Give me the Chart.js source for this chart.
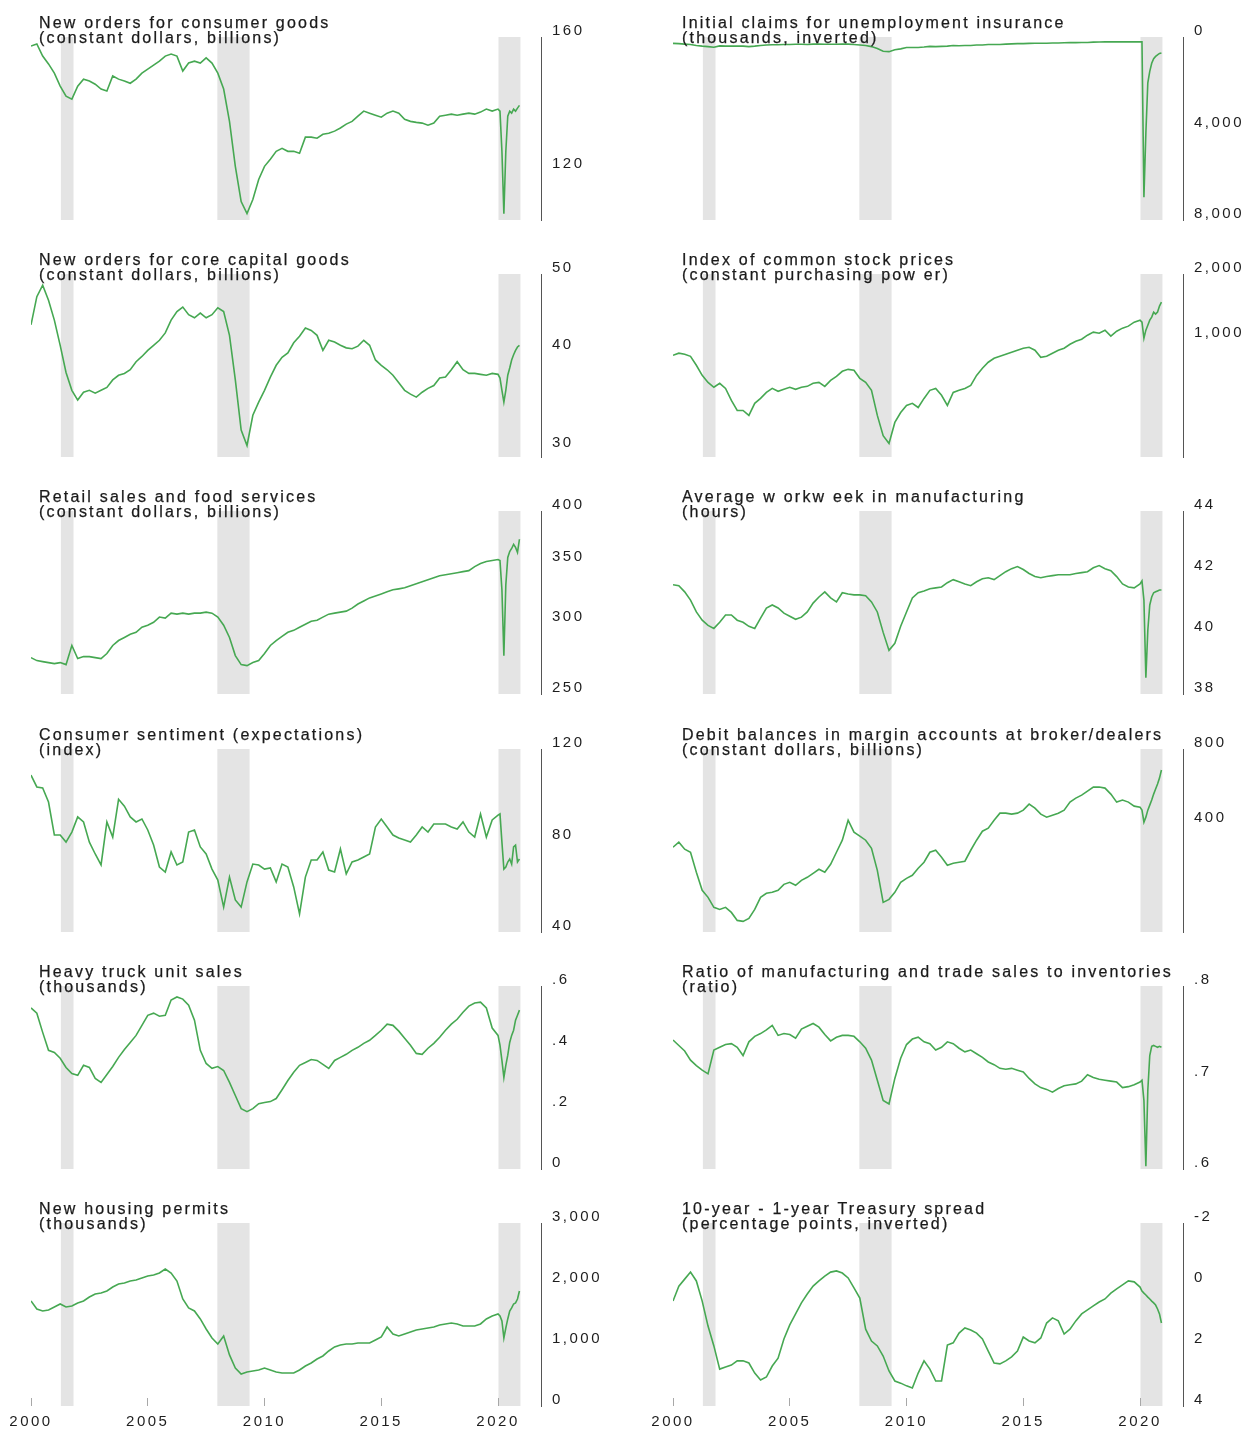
<!DOCTYPE html>
<html><head><meta charset="utf-8">
<script src="https://cdn.jsdelivr.net/npm/chart.js@4.4.0/dist/chart.umd.min.js"></script>
<style>
html,body{margin:0;padding:0;background:#fff;}
body{width:1259px;height:1435px;position:relative;overflow:hidden;font-family:"Liberation Sans",Arial,sans-serif;}
.panel{position:absolute;}
.panel canvas{display:block;}
.title{position:absolute;font-size:16px;line-height:14.5px;letter-spacing:2.2px;color:#1a1a1a;-webkit-text-stroke:0.25px #1a1a1a;white-space:pre;z-index:2;}
</style></head><body>
<script>
// ---- time axis (quarterly 2000-2019, monthly 2020) ----
const dates = [];
for (let yr = 2000; yr < 2020; yr++) for (let q = 0; q < 4; q++) dates.push(yr + q / 4);
for (let m = 0; m < 12; m++) dates.push(2020 + m / 12);

const recessionStart = [2001.28, 2007.98, 2020.02];
const recessionEnd   = [2001.82, 2009.36, 2020.96];
const yearTicks  = [2000, 2005, 2010, 2015, 2020];
const yearLabels = ['2000', '2005', '2010', '2015', '2020'];

// ---- series ----
const consumerGoods = [156.9,157.6,153.5,150.9, 147.9,143.8,140.7,139.8, 143.8,146.0,145.4,144.4, 142.9,142.3,147.0,146.0, 145.4,144.7,146.0,147.9, 149.2,150.5,151.8,153.5, 154.2,153.5,148.6,151.2, 151.8,151.2,152.9,151.2, 147.9,142.9,133.2,120.8, 111.9,109.0,112.4,117.4, 120.8,122.7,124.8,125.6, 124.8,124.8,124.3,128.7, 128.7,128.4,129.5,129.8, 130.4,131.3,132.4,133.2, 134.7,136.2,135.6,135.0, 134.4,135.6,136.2,135.6, 133.8,133.2,132.9,132.7, 132.1,132.7,134.7,135.0, 135.3,135.0,135.3,135.6, 135.3,135.9,136.8,136.2, 136.8,136.2,124.8,109.0,124.8,134.7,136.2,135.6,136.8,136.2,137.1,137.9];
const initialClaims = [280,290,310,330, 370,400,420,450, 390,400,400,400, 400,420,400,370, 350,340,340,330, 330,320,320,330, 310,310,320,320, 320,310,310,330, 350,370,420,500, 620,640,560,520, 460,460,460,440, 410,420,410,400, 370,380,370,370, 350,350,330,330, 330,310,300,290, 290,280,270,270, 270,260,260,250, 245,245,240,240, 225,220,215,215, 215,215,215,215, 215,210,7000,4200,2000,1500,1150,950,850,780,720,700];
const coreCapitalGoods = [43.1,46.8,48.4,46.3, 43.7,40.6,37.5,35.6, 34.6,35.4,35.6,35.3, 35.6,35.9,36.7,37.2, 37.4,37.8,38.7,39.3, 40.0,40.6,41.2,42.1, 43.7,44.8,45.4,44.4, 44.0,44.6,44.0,44.4, 45.3,44.8,41.8,36.7, 31.7,30.3,33.1,34.4, 35.6,37.0,38.3,39.2, 39.7,40.9,41.7,42.7, 42.4,41.8,40.0,41.2, 41.0,40.6,40.3,40.2, 40.5,41.2,40.6,38.9, 38.3,37.8,37.2,36.4, 35.6,35.2,34.9,35.4, 35.8,36.1,36.9,37.0, 37.8,38.7,37.8,37.4, 37.4,37.3,37.2,37.4, 37.3,36.9,35.6,34.4,35.6,37.2,38.0,38.9,39.5,40.0,40.4,40.6];
const stockPrices = [843,862,852,834, 758,681,632,600, 626,593,522,469, 469,445,506,533, 568,593,575,587, 600,587,600,606, 626,632,606,646, 674,711,726,719, 660,632,581,445, 359,330,413,459, 495,506,484,533, 581,593,551,495, 568,581,593,612, 681,734,783,817, 834,852,871,890, 909,918,890,825, 834,862,890,909, 948,979,1000,1044, 1078,1066,1101,1033, 1089,1125,1149,1199, 1225,1199,1011,1101,1161,1225,1265,1334,1306,1334,1422,1484];
const retailSales = [274.5,272.4,271.7,271.0, 270.3,271.0,269.6,283.2, 273.8,275.2,275.2,274.5, 273.8,277.4,283.2,286.8, 289.1,291.4,292.9,296.8, 298.3,300.6,304.6,303.8, 307.7,306.9,307.7,306.9, 307.7,307.7,308.5,307.7, 304.6,298.3,289.1,275.9, 269.6,268.9,271.0,272.4, 277.4,283.2,286.8,289.9, 292.9,294.4,296.8,299.1, 301.4,302.2,304.6,306.9, 307.7,308.5,309.3,311.7, 315.0,317.5,320.0,321.6, 323.3,325.0,326.7,327.5, 328.4,330.1,331.8,333.5, 335.2,337.0,338.8,339.6, 340.5,341.4,342.3,343.2, 346.8,349.5,351.3,352.2, 353.1,352.2,326.7,275.9,330.9,355.0,360.5,363.3,367.2,364.3,359.6,372.0];
const avgWorkweek = [41.58,41.55,41.35,41.08, 40.69,40.42,40.25,40.15, 40.35,40.59,40.59,40.42, 40.35,40.22,40.15,40.49, 40.82,40.92,40.82,40.65, 40.55,40.45,40.52,40.69, 40.98,41.18,41.35,41.15, 41.02,41.32,41.28,41.25, 41.25,41.22,41.02,40.69, 40.02,39.43,39.66,40.22, 40.69,41.15,41.32,41.38, 41.45,41.48,41.51,41.65, 41.75,41.68,41.61,41.55, 41.68,41.78,41.81,41.75, 41.88,42.01,42.11,42.18, 42.08,41.95,41.85,41.81, 41.85,41.88,41.91,41.91, 41.91,41.95,41.98,42.01, 42.14,42.21,42.11,42.04, 41.85,41.61,41.51,41.48, 41.61,41.71,41.08,38.53,40.09,40.92,41.18,41.32,41.35,41.38,41.41,41.41];
const consumerSentiment = [108.6,103.4,103.0,96.8, 82.4,82.4,79.3,83.7, 90.3,88.1,79.3,74.1, 69.3,88.1,81.5,98.0, 95.0,90.3,88.1,89.4, 84.6,78.0,68.4,66.2, 75.0,69.3,70.6,83.7, 84.6,77.2,74.1,67.5, 62.7,50.9,64.0,54.0, 50.9,61.9,69.7,69.3, 67.5,68.0,61.9,69.7, 68.4,59.7,47.9,64.0, 71.5,71.5,75.0,67.1, 66.2,76.3,65.4,70.6, 71.5,72.8,74.1,85.9, 89.4,85.9,82.4,81.1, 80.2,79.3,82.4,85.9, 83.7,87.2,87.2,87.2, 85.9,85.0,88.1,83.7, 81.5,91.6,81.5,89.0, 91.1,91.6,79.3,67.5,68.4,70.6,71.9,69.7,77.2,78.0,70.6,71.9];
const marginDebit = [323.4,338.7,317.5,308.8, 256.7,217.4,203.7,185.8, 182.3,185.8,177.3,164.7, 163.2,167.8,182.3,203.7, 211.4,213.4,217.4,229.7, 234.0,227.6,238.4,245.1, 254.3,263.9,256.7,276.4, 308.8,345.0,415.0,371.5, 358.0,345.0,320.4,261.4, 194.5,200.0,213.4,234.0, 242.8,249.7,266.3,281.5, 308.8,314.5,294.9,273.8, 278.9,281.5,284.2,314.5, 345.0,374.9,385.5,415.0, 442.8,442.8,438.7,442.8, 455.3,481.2,463.8,438.7, 426.7,434.7,442.8,455.3, 490.3,508.7,523.0,542.7, 563.1,563.1,557.9,527.8, 490.3,499.4,490.3,472.4, 468.1,455.3,407.5,426.7,455.3,476.8,499.4,527.8,552.8,578.9,611.9,658.9];
const heavyTrucks = [.528,.511,.448,.389, .382,.363,.333,.313, .307,.340,.333,.297, .284,.310,.336,.366, .392,.415,.438,.471, .504,.511,.501,.504, .554,.564,.557,.537, .488,.389,.346,.330, .336,.323,.284,.241, .198,.188,.198,.214, .218,.221,.231,.260, .290,.317,.340,.349, .359,.356,.343,.330, .356,.366,.376,.389, .399,.412,.422,.438, .455,.475,.471,.452, .429,.406,.379,.376, .396,.412,.432,.455, .475,.491,.514,.534, .544,.547,.528,.462, .438,.406,.356,.300,.340,.373,.415,.438,.455,.488,.504,.521];
const salesInventoryRatio = [.741,.735,.729,.719, .713,.708,.704,.730, .733,.736,.737,.733, .724,.739,.745,.748, .752,.757,.746,.748, .747,.743,.753,.756, .759,.755,.747,.740, .744,.746,.746,.745, .739,.732,.719,.697, .675,.671,.699,.721, .736,.742,.744,.739, .737,.730,.733,.739, .737,.732,.728,.730, .726,.722,.717,.714, .710,.709,.710,.708, .706,.699,.693,.689, .687,.684,.688,.691, .692,.693,.696,.703, .700,.698,.697,.696, .695,.689,.690,.692, .695,.697,.675,.603,.686,.724,.734,.735,.734,.733,.734,.733];
const housingPermits = [1722,1590,1558,1574, 1623,1672,1623,1640, 1689,1722,1787,1836, 1853,1885,1951,2000, 2017,2049,2066,2099, 2131,2148,2180,2246, 2180,2049,1754,1607, 1558,1427,1263,1115, 1017,1148,837,623, 525,558,574,591, 623,591,558,541, 541,541,591,656, 705,771,820,902, 968,1000,1017,1017, 1033,1033,1033,1082, 1132,1295,1181,1148, 1181,1213,1246,1263, 1279,1295,1328,1345, 1361,1345,1312,1312, 1312,1345,1427,1476, 1509,1476,1394,1115,1279,1427,1558,1607,1672,1689,1754,1885];
const treasurySpread = [0.56,0.07,-0.16,-0.39, -0.10,0.56,1.38,2.03, 2.79,2.72,2.66,2.52, 2.52,2.59,2.92,3.15, 3.05,2.69,2.43,1.80, 1.34,0.98,0.62,0.33, 0.07,-0.10,-0.26,-0.39, -0.43,-0.36,-0.20,0.13, 0.46,1.48,1.87,2.03, 2.36,2.85,3.18,3.25, 3.34,3.41,2.92,2.52, 2.79,3.18,3.18,2.00, 1.93,1.61,1.44,1.51, 1.61,1.80,2.20,2.59, 2.62,2.52,2.39,2.20, 1.74,1.87,1.93,1.77, 1.28,1.11,1.21,1.64, 1.48,1.21,0.98,0.85, 0.72,0.59,0.49,0.30, 0.16,0.03,-0.10,-0.07, 0.10,0.23,0.30,0.36,0.43,0.49,0.56,0.62,0.69,0.82,0.98,1.28];

// ---- tick values and labels ----
const consumerGoodsTicks = [120, 160];            const consumerGoodsLabels = ['120', '160'];
const initialClaimsTicks = [0, 4000, 8000];       const initialClaimsLabels = ['0', '4,000', '8,000'];
const coreCapitalTicks = [30, 40, 50];            const coreCapitalLabels = ['30', '40', '50'];
const stockPricesTicks = [1000, 2000];            const stockPricesLabels = ['1,000', '2,000'];
const retailSalesTicks = [250, 300, 350, 400];    const retailSalesLabels = ['250', '300', '350', '400'];
const workweekTicks = [38, 40, 42, 44];           const workweekLabels = ['38', '40', '42', '44'];
const sentimentTicks = [40, 80, 120];             const sentimentLabels = ['40', '80', '120'];
const marginDebitTicks = [400, 800];              const marginDebitLabels = ['400', '800'];
const heavyTrucksTicks = [0, 0.2, 0.4, 0.6];      const heavyTrucksLabels = ['0', '.2', '.4', '.6'];
const ratioTicks = [0.6, 0.7, 0.8];               const ratioLabels = ['.6', '.7', '.8'];
const housingTicks = [0, 1000, 2000, 3000];       const housingLabels = ['0', '1,000', '2,000', '3,000'];
const spreadTicks = [-2, 0, 2, 4];                const spreadLabels = ['-2', '0', '2', '4'];

const panels = [
  {row:0, col:0, title:['New orders for consumer goods','(constant dollars, billions)'], data:consumerGoods, log:true, min:107.5, max:160, ticks:consumerGoodsTicks, labels:consumerGoodsLabels},
  {row:0, col:1, title:['Initial claims for unemployment insurance','(thousands, inverted)'], data:initialClaims, min:0, max:8000, reverse:true, ticks:initialClaimsTicks, labels:initialClaimsLabels},
  {row:1, col:0, title:['New orders for core capital goods','(constant dollars, billions)'], data:coreCapitalGoods, log:true, min:29.3, max:50, ticks:coreCapitalTicks, labels:coreCapitalLabels},
  {row:1, col:1, title:['Index of common stock prices','(constant purchasing pow er)'], data:stockPrices, log:true, min:286, max:2000, ticks:stockPricesTicks, labels:stockPricesLabels},
  {row:2, col:0, title:['Retail sales and food services','(constant dollars, billions)'], data:retailSales, log:true, min:250, max:400, ticks:retailSalesTicks, labels:retailSalesLabels},
  {row:2, col:1, title:['Average w orkw eek in manufacturing','(hours)'], data:avgWorkweek, min:38, max:44, ticks:workweekTicks, labels:workweekLabels},
  {row:3, col:0, title:['Consumer sentiment (expectations)','(index)'], data:consumerSentiment, min:40, max:120, ticks:sentimentTicks, labels:sentimentLabels},
  {row:3, col:1, title:['Debit balances in margin accounts at broker/dealers','(constant dollars, billions)'], data:marginDebit, log:true, min:148, max:800, ticks:marginDebitTicks, labels:marginDebitLabels},
  {row:4, col:0, title:['Heavy truck unit sales','(thousands)'], data:heavyTrucks, min:0, max:0.6, ticks:heavyTrucksTicks, labels:heavyTrucksLabels},
  {row:4, col:1, title:['Ratio of manufacturing and trade sales to inventories','(ratio)'], data:salesInventoryRatio, min:0.6, max:0.8, ticks:ratioTicks, labels:ratioLabels},
  {row:5, col:0, title:['New housing permits','(thousands)'], data:housingPermits, min:0, max:3000, ticks:housingTicks, labels:housingLabels},
  {row:5, col:1, title:['10-year - 1-year Treasury spread','(percentage points, inverted)'], data:treasurySpread, min:-2, max:4, reverse:true, ticks:spreadTicks, labels:spreadLabels}
];

Chart.defaults.font.family = '"Liberation Sans", Arial, sans-serif';

const recessionPlugin = {
  id: 'recessions',
  beforeDraw(chart) {
    const {ctx, chartArea: a, scales: {x}} = chart;
    ctx.letterSpacing = '2.5px';
    ctx.save();
    ctx.fillStyle = '#e4e4e4';
    recessionStart.forEach((s, i) => {
      const x1 = x.getPixelForValue(s), x2 = x.getPixelForValue(recessionEnd[i]);
      ctx.fillRect(x1, a.top, x2 - x1, a.bottom - a.top);
    });
    ctx.restore();
  }
};

const TOP0 = 37, PITCH = 237.2, PLOT_H = 183, PAD = 15, CANVAS_W = 618;
const tickFont = {family: '"Liberation Sans", Arial, sans-serif', size: 15};

panels.forEach(p => {
  const isBottom = p.row === 5;
  const top = Math.round(TOP0 + PITCH * p.row);
  const left = p.col ? 642 : 0;
  const h = PAD + PLOT_H + (isBottom ? 30 : PAD);

  const wrap = document.createElement('div');
  wrap.className = 'panel';
  wrap.style.left = left + 'px';
  wrap.style.top = (top - PAD) + 'px';
  const cv = document.createElement('canvas');
  cv.width = CANVAS_W; cv.height = h;
  cv.style.width = CANVAS_W + 'px'; cv.style.height = h + 'px';
  wrap.appendChild(cv);
  document.body.appendChild(wrap);

  const t = document.createElement('div');
  t.className = 'title';
  t.style.left = (p.col ? 682 : 39) + 'px';
  t.style.top = (top - 21) + 'px';
  t.textContent = p.title.join('\n');
  document.body.appendChild(t);

  const xScale = {
    type: 'linear', min: 2000, max: 2021.84, display: isBottom,
    grid: {display: true, drawOnChartArea: false, drawTicks: true, tickLength: -8, color: '#a8a8a8'},
    border: {display: false},
    ticks: {padding: 15, color: '#1e1e1e', font: tickFont, autoSkip: false, maxRotation: 0,
            callback: (v, i) => yearLabels[i]},
    afterBuildTicks: s => { s.ticks = yearTicks.map(v => ({value: v})); }
  };
  if (isBottom) xScale.afterFit = s => { s.height = 30; s.paddingLeft = 0; s.paddingRight = 0; };

  new Chart(cv, {
    type: 'line',
    data: {
      datasets: [{
        data: dates.map((d, i) => ({x: d, y: p.data[i]})),
        borderColor: '#46a852',
        borderWidth: 1.6,
        pointRadius: 0,
        tension: 0,
        fill: false
      }]
    },
    options: {
      responsive: false,
      animation: false,
      devicePixelRatio: 1,
      layout: {padding: {left: 31, right: 0, top: PAD, bottom: isBottom ? 0 : PAD}},
      plugins: {legend: {display: false}, tooltip: {enabled: false}, title: {display: false}},
      scales: {
        x: xScale,
        y: {
          type: p.log ? 'logarithmic' : 'linear',
          position: 'right',
          min: p.min, max: p.max, reverse: !!p.reverse,
          grid: {display: true, drawOnChartArea: false, drawTicks: false},
          border: {display: true, color: '#555', width: 1},
          ticks: {padding: 11, labelOffset: -6, color: '#1e1e1e', font: tickFont, autoSkip: false,
                  callback: (v, i) => p.labels[i]},
          afterBuildTicks: s => { s.ticks = p.ticks.map(v => ({value: v})); },
          afterFit: s => { s.width = CANVAS_W - 541; s.paddingTop = 0; s.paddingBottom = 0; }
        }
      }
    },
    plugins: [recessionPlugin]
  });
});
</script>
</body></html>
